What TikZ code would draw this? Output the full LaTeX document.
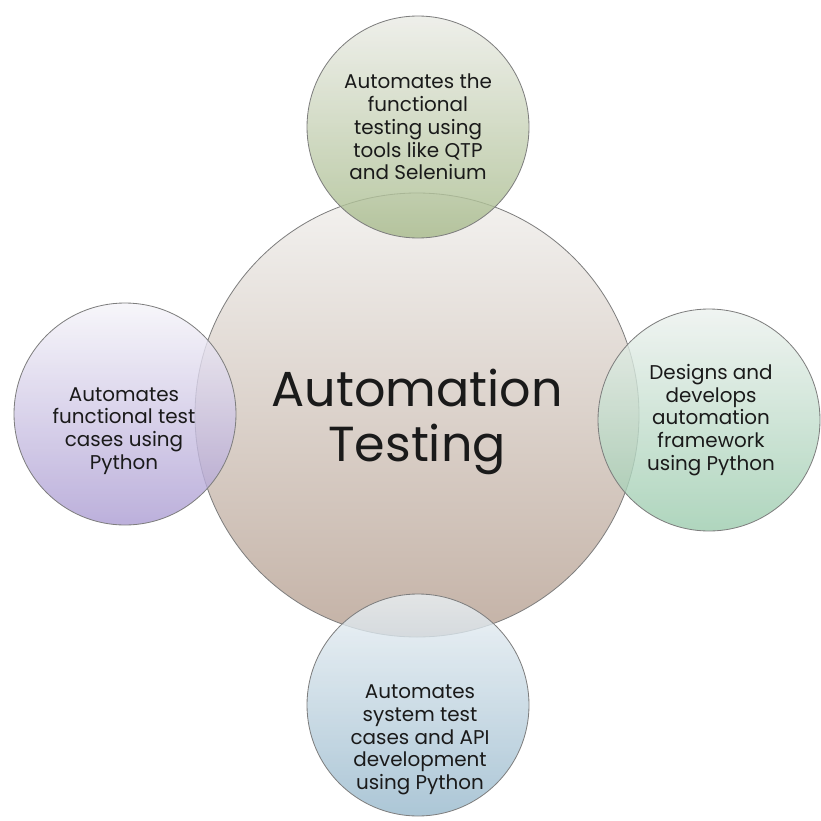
\documentclass[tikz,border=0pt]{standalone}
\usepackage{fontspec}
\setmainfont{Poppins}
\usetikzlibrary{positioning}
\newcommand{\AutoPx}{0.03}

\definecolor{rimgray}{HTML}{7E7E7E}
\definecolor{inkblack}{HTML}{1A1A1A}
\definecolor{hubtop}{HTML}{F3F2F0}
\definecolor{hubbot}{HTML}{C4B2A6}
\definecolor{greentop}{HTML}{EAEBE5}
\definecolor{greenbot}{HTML}{A6BA8A}
\definecolor{minttop}{HTML}{ECF1EE}
\definecolor{mintbot}{HTML}{9BCBAD}
\definecolor{bluetop}{HTML}{EAF0F4}
\definecolor{bluebot}{HTML}{97B8CC}
\definecolor{lilactop}{HTML}{F5F4F9}
\definecolor{lilacbot}{HTML}{AB9CD2}

\tikzset{
  bubble/.style={circle, draw=rimgray, line width=0.7pt, inner sep=0pt,
                 minimum size=#1*\AutoPx cm},
  petal/.style={bubble=222, fill opacity=0.8, draw opacity=1},
  blurb/.style={align=center, text=inkblack, font=\fontsize{17}{19.4}\selectfont},
}

\begin{document}
\begin{tikzpicture}[x=\AutoPx cm, y=-\AutoPx cm]
    \useasboundingbox (0,0) rectangle (821,821);

    % draw central circle
    \node[bubble=444, top color=hubtop, bottom color=hubbot] (hub) at (417,415) {};

    % draw outer circles
    \node[petal, top color=greentop, bottom color=greenbot] (north) at (418,127) {};
    \node[petal, top color=minttop, bottom color=mintbot] (east) at (709,420) {};
    \node[petal, top color=bluetop, bottom color=bluebot] (south) at (418,705) {};
    \node[petal, top color=lilactop, bottom color=lilacbot] (west) at (125,414) {};

    % texts
    \node[align=center, text=inkblack, font=\fontsize{42}{47}\selectfont] (hubtext) at (417,422) {Automation\\Testing};
    \node[blurb] (northtext) at (418,127) {Automates the\\functional\\testing using\\tools like QTP\\and Selenium};
    \node[blurb] (easttext) at (711,420) {Designs and\\develops\\automation\\framework\\using Python};
    \node[blurb] (southtext) at (420,740) {Automates\\system test\\cases and API\\development\\using Python};
    \node[blurb] (westtext) at (124,431) {Automates\\functional test\\cases using\\Python};
\end{tikzpicture}
\end{document}
